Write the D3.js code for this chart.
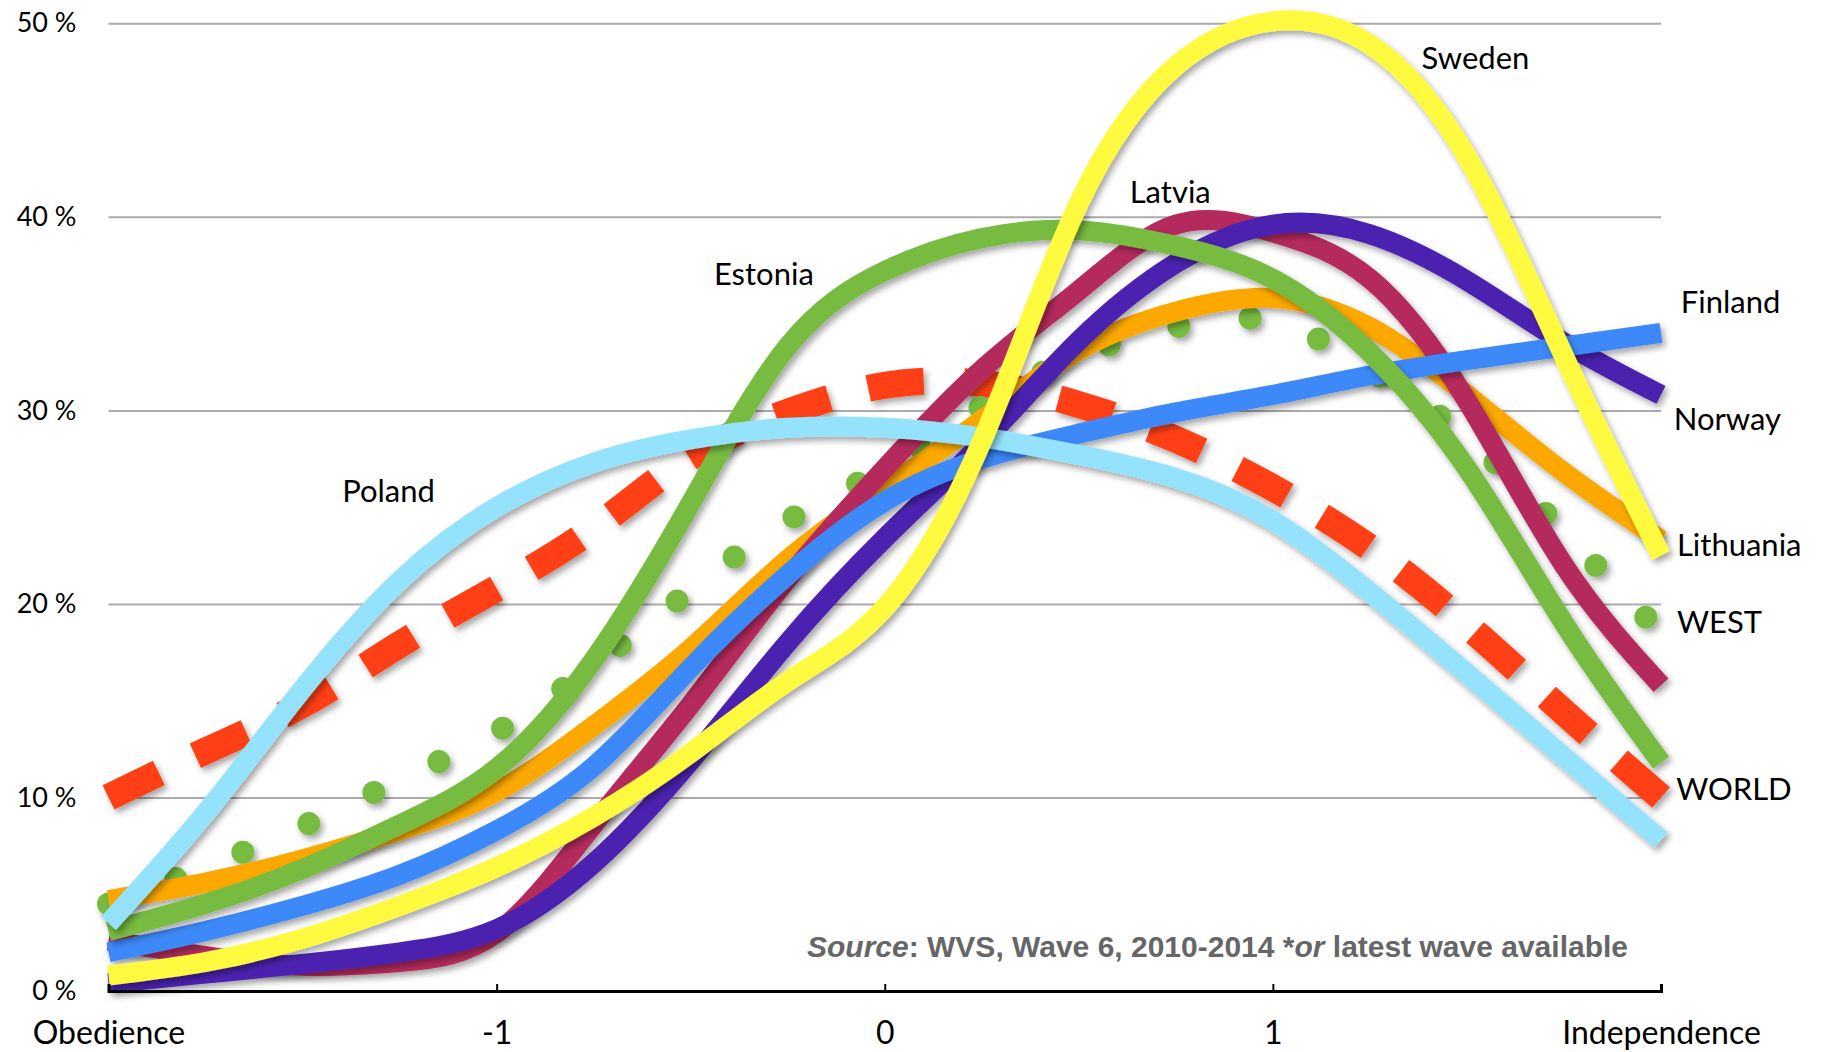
<!DOCTYPE html>
<html>
<head>
<meta charset="utf-8">
<script src="https://cdn.jsdelivr.net/npm/d3@7"></script>
<style>
  body { margin: 0; background: #fff; }
</style>
</head>
<body>
<div id="chart"></div>
<script>
// positions on the obedience (-2) .. independence (+2) scale
var xValues = [-2, -1.75, -1.5, -1.25, -1, -0.75, -0.5, -0.25, 0, 0.25, 0.5, 0.75, 1, 1.25, 1.5, 1.75, 2];
var xTickValues = [-2, -1, 0, 1, 2];
var xTickLabels = ['Obedience', '-1', '0', '1', 'Independence'];
var yTickValues = [0, 10, 20, 30, 40, 50];

// share of respondents, %
var sweden    = [0.8, 1.5, 2.7, 4.4, 6.4, 9.0, 12.3, 16.0, 19.8, 28.4, 40.7, 47.8, 50.1, 48.9, 43.1, 32.8, 22.5];
var latvia    = [2.6, 1.8, 1.3, 1.5, 3.0, 8.6, 14.8, 21.3, 27.0, 32.1, 36.2, 39.6, 39.2, 36.8, 30.5, 22.0, 15.8];
var estonia   = [3.1, 4.5, 6.3, 8.6, 11.5, 17.1, 25.2, 33.3, 37.2, 38.9, 39.3, 38.5, 36.8, 33.0, 27.0, 19.0, 11.8];
var poland    = [3.5, 9.2, 15.6, 21.2, 25.0, 27.3, 28.5, 29.1, 29.1, 28.6, 27.7, 26.5, 24.3, 20.6, 16.4, 12.1, 7.8];
var finland   = [2.0, 3.1, 4.4, 6.0, 8.3, 11.6, 16.7, 21.5, 25.3, 27.5, 28.8, 29.9, 30.8, 31.8, 32.6, 33.3, 34.0];
var norway    = [0.4, 0.9, 1.4, 2.0, 3.2, 6.6, 11.9, 18.0, 23.4, 28.3, 33.6, 37.6, 39.6, 39.1, 36.7, 33.5, 30.8];
var lithuania = [4.7, 5.6, 6.8, 8.3, 10.3, 13.7, 17.7, 22.3, 26.0, 29.5, 33.1, 35.1, 35.8, 34.3, 30.8, 26.8, 23.3];
var west      = [4.5, 6.4, 8.5, 10.9, 13.4, 16.8, 20.7, 24.3, 27.0, 30.2, 32.8, 34.3, 34.6, 32.1, 28.6, 23.7, 18.5];
var world     = [10.0, 12.4, 14.8, 17.9, 20.8, 23.9, 27.6, 29.9, 31.3, 31.4, 30.3, 28.5, 26.0, 22.9, 18.9, 14.4, 10.0];

// drawing order, bottom first
var seriesNames = ['WORLD', 'WEST', 'Lithuania', 'Latvia', 'Norway', 'Finland', 'Estonia', 'Poland', 'Sweden'];
var seriesValues = [world, west, lithuania, latvia, norway, finland, estonia, poland, sweden];

function drawChart(containerID) {
    var width = 1830;
    var height = 1052;
    var margin = {top: 23.3, right: 169, bottom: 61, left: 108.5};
    var w = width - margin.left - margin.right;
    var h = height - margin.top - margin.bottom;

    var styles = {
        'WORLD':     {color: '#ff4013', width: 27, dash: 56, gap: 43, cap: 'butt'},
        'WEST':      {color: '#77bb41', width: 23, dash: 0, gap: 72, cap: 'round'},
        'Lithuania': {color: '#fca800', width: 20},
        'Latvia':    {color: '#b52b5d', width: 20},
        'Norway':    {color: '#4b22b0', width: 20},
        'Finland':   {color: '#3d89f9', width: 20},
        'Estonia':   {color: '#77bb41', width: 20},
        'Poland':    {color: '#94e2fb', width: 20},
        'Sweden':    {color: '#fdfa40', width: 20}
    };

    // label anchors in data units (left edge, vertical middle)
    var labels = [
        {text: 'Sweden', x: 1.383, y: 48.2},
        {text: 'Latvia', x: 0.631, y: 41.25},
        {text: 'Estonia', x: -0.44, y: 37.05},
        {text: 'Poland', x: -1.398, y: 25.83},
        {text: 'Finland', x: 2.051, y: 35.6},
        {text: 'Norway', x: 2.033, y: 29.55},
        {text: 'Lithuania', x: 2.041, y: 23.04},
        {text: 'WEST', x: 2.041, y: 19.07},
        {text: 'WORLD', x: 2.039, y: 10.44}
    ];

    var svg = d3.select('#' + containerID)
        .append('svg')
        .attr('width', width)
        .attr('height', height);

    var filter = svg.append('defs').append('filter')
        .attr('id', 'shadow')
        .attr('x', '-20%').attr('y', '-20%')
        .attr('width', '140%').attr('height', '140%');
    filter.append('feDropShadow')
        .attr('dx', 3)
        .attr('dy', 4)
        .attr('stdDeviation', 3)
        .attr('flood-color', '#000')
        .attr('flood-opacity', 0.35);

    var g = svg.append('g')
        .attr('transform', 'translate(' + margin.left + ',' + margin.top + ')');

    var xScale = d3.scaleLinear().domain([-2, 2]).range([0, w]);
    var yScale = d3.scaleLinear().domain([0, 50]).range([h, 0]);

    // grid lines
    var grid = g.append('g')
        .call(d3.axisLeft(yScale).tickValues(yTickValues.slice(1)).tickSize(-w).tickFormat(''));
    grid.select('.domain').remove();
    grid.selectAll('line').attr('stroke', '#ababab').attr('stroke-width', 2);

    // y labels
    var yAxis = g.append('g')
        .call(d3.axisLeft(yScale).tickValues(yTickValues).tickSize(0).tickPadding(32)
            .tickFormat(function(d) { return d + ' %'; }));
    yAxis.attr('font-family', 'Lato, sans-serif').attr('font-size', 27);
    yAxis.select('.domain').remove();
    yAxis.selectAll('text').attr('fill', '#000');

    var line = d3.line()
        .x(function(d, i) { return xScale(xValues[i]); })
        .y(function(d) { return yScale(d); })
        .curve(d3.curveNatural);

    seriesNames.forEach(function(name, idx) {
        var s = styles[name];
        var path = g.append('path')
            .datum(seriesValues[idx])
            .attr('fill', 'none')
            .attr('stroke', s.color)
            .attr('stroke-width', s.width)
            .attr('stroke-linecap', s.cap || 'butt')
            .attr('stroke-linejoin', 'round')
            .attr('filter', 'url(#shadow)')
            .attr('d', line);

        if (s.dash > 0) {
            // stretch the gaps a little so the dashes start and end on whole pieces
            var len = path.node().getTotalLength();
            var n = Math.round((len + s.gap) / (s.dash + s.gap));
            var gap = (len - n * s.dash) / (n - 1);
            path.attr('stroke-dasharray', s.dash + ' ' + gap);
        } else if (s.gap) {
            path.attr('stroke-dasharray', s.dash + ' ' + s.gap);
        }
    });

    // x axis
    var xAxis = g.append('g')
        .attr('transform', 'translate(0,' + h + ')')
        .call(d3.axisBottom(xScale).tickValues(xTickValues).tickSize(-7).tickPadding(30)
            .tickFormat(function(d, i) { return xTickLabels[i]; }));
    xAxis.attr('font-family', 'Lato, sans-serif').attr('font-size', 32);
    xAxis.select('.domain').attr('stroke', '#000').attr('stroke-width', 3);
    xAxis.selectAll('.tick line').attr('stroke', '#000').attr('stroke-width', 2);
    xAxis.selectAll('text').attr('fill', '#000');

    // series names
    g.selectAll('.series-label')
        .data(labels)
        .enter().append('text')
        .attr('class', 'series-label')
        .attr('x', function(d) { return xScale(d.x); })
        .attr('y', function(d) { return yScale(d.y); })
        .attr('dy', '0.35em')
        .attr('font-family', 'Lato, sans-serif')
        .attr('font-size', 31)
        .attr('fill', '#000')
        .text(function(d) { return d.text; });

    // source note
    var source = g.append('text')
        .attr('x', xScale(1.915))
        .attr('y', yScale(2.3))
        .attr('dy', '0.35em')
        .attr('text-anchor', 'end')
        .attr('font-family', '"Liberation Sans", Arial, sans-serif')
        .attr('font-weight', 'bold')
        .attr('font-size', 30)
        .attr('fill', '#666');
    source.append('tspan').attr('font-style', 'italic').text('Source');
    source.append('tspan').text(': WVS, Wave 6, 2010-2014 *');
    source.append('tspan').attr('font-style', 'italic').text('or');
    source.append('tspan').text(' latest wave available');
}

drawChart('chart');
</script>
</body>
</html>
